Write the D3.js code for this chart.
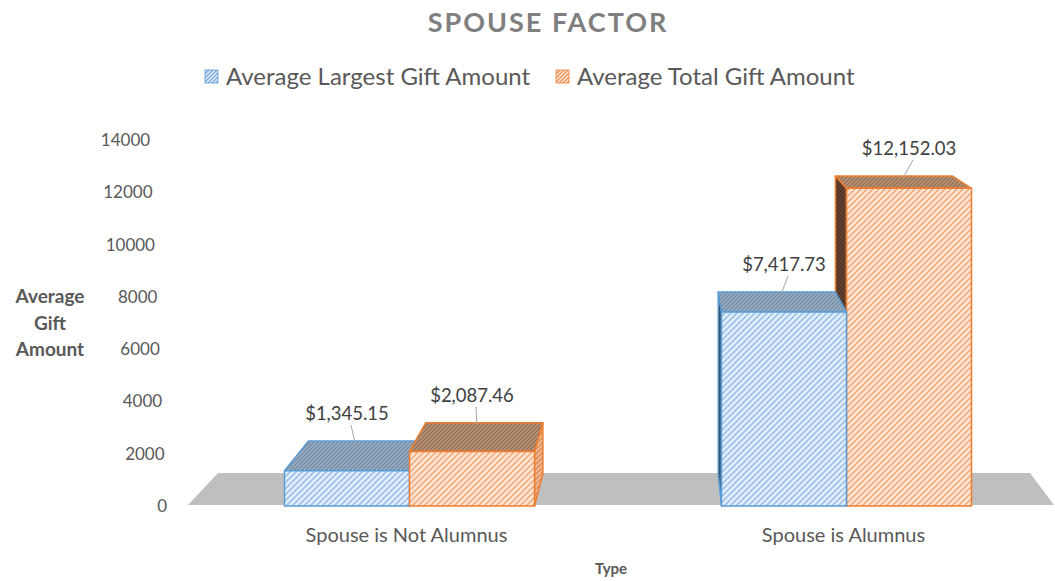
<!DOCTYPE html>
<html>
<head>
<meta charset="utf-8">
<script src="https://cdn.jsdelivr.net/npm/d3@7"></script>
<style>
  body { margin: 0; background: #fff; }
  svg text { font-family: Lato, "Liberation Sans", sans-serif; }
</style>
</head>
<body>
<div id="chart"></div>
<script>
// chart data
const categories = ["Spouse is Not Alumnus", "Spouse is Alumnus"];
const seriesNames = ["Average Largest Gift Amount", "Average Total Gift Amount"];
const largestGift = [1345.15, 7417.73];
const totalGift = [2087.46, 12152.03];
const yTicks = [0, 2000, 4000, 6000, 8000, 10000, 12000, 14000];

const width = 1055, height = 581;
// vanishing point + depth factor for the fake 3d look
const vp = { x: 669, y: -8 };
const depthShrink = 0.0624;

const svg = d3.select("#chart").append("svg")
  .attr("width", width)
  .attr("height", height);

const defs = svg.append("defs");
function hatch(id, bg, fg, size, sw) {
  const p = defs.append("pattern")
    .attr("id", id)
    .attr("patternUnits", "userSpaceOnUse")
    .attr("width", size).attr("height", size);
  p.append("rect").attr("width", size).attr("height", size).attr("fill", bg);
  p.append("path")
    .attr("d", `M0,${size} L${size},0 M${-size / 2},${size / 2} L${size / 2},${-size / 2} M${size / 2},${size * 1.5} L${size * 1.5},${size / 2}`)
    .attr("stroke", fg).attr("stroke-width", sw);
}
hatch("frontBlue", "#e3eefa", "#9cc2e8", 6, 1.6);
hatch("frontOrange", "#fde6d6", "#f3ad7e", 6, 1.6);
hatch("topBlue", "#98adc4", "#71899f", 4, 1.2);
hatch("topOrange", "#bb9375", "#8f6b52", 4, 1.2);
hatch("sideBlue", "#44566a", "#2f3e4e", 4, 1.2);
hatch("sideOrange", "#654330", "#4a2f20", 4, 1.2);
hatch("sideOrangeLit", "#f0b893", "#de8a52", 5, 1.4);
hatch("legBlue", "#dce9f6", "#6fa3d8", 4, 1.2);
hatch("legOrange", "#fbe1cf", "#ea8a4c", 4, 1.2);

const styles = [
  { front: "url(#frontBlue)", top: "url(#topBlue)", sideDark: "url(#sideBlue)", sideLit: "url(#frontBlue)", stroke: "#5b9bd5", leg: "url(#legBlue)" },
  { front: "url(#frontOrange)", top: "url(#topOrange)", sideDark: "url(#sideOrange)", sideLit: "url(#sideOrangeLit)", stroke: "#ed7d31", leg: "url(#legOrange)" }
];

// scales
const x0 = d3.scaleBand().domain(categories).range([188, 1062]).padding(0);
const x1 = d3.scaleBand().domain(seriesNames).range([-122, 128]);
const y = d3.scaleLinear().domain([0, 14000]).range([506, 140]);

function proj(px, py, z) {
  const s = 1 - depthShrink * z;
  return [vp.x + (px - vp.x) * s, vp.y + (py - vp.y) * s];
}
const line = pts => "M" + pts.map(p => p.join(",")).join("L") + "Z";

// title
svg.append("text")
  .attr("x", 548).attr("y", 32)
  .attr("text-anchor", "middle")
  .attr("font-size", 27).attr("font-weight", "bold")
  .attr("letter-spacing", 2)
  .attr("fill", "#7f7f7f")
  .text("SPOUSE FACTOR");

// legend
const legX = [205, 556];
seriesNames.forEach((name, i) => {
  const g = svg.append("g").attr("transform", `translate(${legX[i]},70)`);
  g.append("rect").attr("width", 13).attr("height", 13)
    .attr("fill", styles[i].leg).attr("stroke", styles[i].stroke).attr("stroke-width", 0.8);
  g.append("text").attr("x", 21).attr("y", 15)
    .attr("font-size", 24).attr("fill", "#595959").text(name);
});

// floor
const floorL = 188, floorR = 1054, floorY = y(0) - 1;
svg.append("path")
  .attr("d", line([[floorL, floorY], [floorR, floorY], proj(floorR, floorY, 1), proj(floorL, floorY, 1)]))
  .attr("fill", "#bfbfbf");

// y tick labels, slanted a little with the perspective
svg.append("g").selectAll("text")
  .data(yTicks).enter().append("text")
  .attr("x", d => 167 - (y(0) - y(d)) * 0.046)
  .attr("y", d => y(d) + 6)
  .attr("text-anchor", "end")
  .attr("font-size", 17).attr("fill", "#595959")
  .text(d => d);

// y axis title
svg.append("text")
  .attr("text-anchor", "middle")
  .attr("font-size", 19).attr("font-weight", "bold").attr("fill", "#595959")
  .selectAll("tspan").data(["Average", "Gift", "Amount"]).enter().append("tspan")
  .attr("x", 50).attr("y", (d, i) => 303 + i * 26.5)
  .text(d => d);

// bars
const bars = [];
categories.forEach((c, ci) => {
  [largestGift, totalGift].forEach((vals, si) => {
    const xa = x0(c) + x0.bandwidth() / 2 + x1(seriesNames[si]);
    bars.push({ xa: xa, xb: xa + x1.bandwidth(), v: vals[ci], si: si });
  });
});
// paint the ones farthest from the vanishing point first
bars.sort((a, b) => Math.abs((b.xa + b.xb) / 2 - vp.x) - Math.abs((a.xa + a.xb) / 2 - vp.x));

const barG = svg.append("g");
bars.forEach(b => {
  const st = styles[b.si];
  const yt = y(b.v), yb = y(0);
  const g = barG.append("g")
    .attr("stroke", st.stroke).attr("stroke-width", 1.5).attr("stroke-linejoin", "round");
  if (b.xa > vp.x) {
    g.append("path").attr("d", line([[b.xa, yt], proj(b.xa, yt, 1), proj(b.xa, yb, 1), [b.xa, yb]]))
      .attr("fill", st.sideDark);
  }
  if (b.xb < vp.x) {
    g.append("path").attr("d", line([[b.xb, yt], proj(b.xb, yt, 1), proj(b.xb, yb, 1), [b.xb, yb]]))
      .attr("fill", st.sideLit);
  }
  g.append("path").attr("d", line([[b.xa, yt], [b.xb, yt], proj(b.xb, yt, 1), proj(b.xa, yt, 1)]))
    .attr("fill", st.top);
  g.append("rect")
    .attr("x", b.xa).attr("y", yt)
    .attr("width", b.xb - b.xa).attr("height", yb - yt)
    .attr("fill", st.front);
});

// data labels with leader lines
const fmt = d3.format("$,.2f");
bars.forEach(b => {
  const cx = (b.xa + b.xb) / 2;
  const back = proj(cx, y(b.v), 1);
  const ly = back[1] - 27;
  svg.append("line")
    .attr("x1", cx + 4).attr("y1", ly + 11)
    .attr("x2", back[0] - (back[0] - cx) * 0.6).attr("y2", back[1] + 2)
    .attr("stroke", "#a6a6a6").attr("stroke-width", 1);
  svg.append("text")
    .attr("x", cx).attr("y", ly + 6)
    .attr("text-anchor", "middle")
    .attr("font-size", 18.5).attr("fill", "#404040")
    .text(fmt(b.v));
});

// category labels
svg.append("g").selectAll("text")
  .data(categories).enter().append("text")
  .attr("x", d => x0(d) + x0.bandwidth() / 2)
  .attr("y", 542)
  .attr("text-anchor", "middle")
  .attr("font-size", 20).attr("fill", "#595959")
  .text(d => d);

svg.append("text")
  .attr("x", 611).attr("y", 574)
  .attr("text-anchor", "middle")
  .attr("font-size", 15).attr("font-weight", "bold").attr("fill", "#595959")
  .text("Type");
</script>
</body>
</html>
